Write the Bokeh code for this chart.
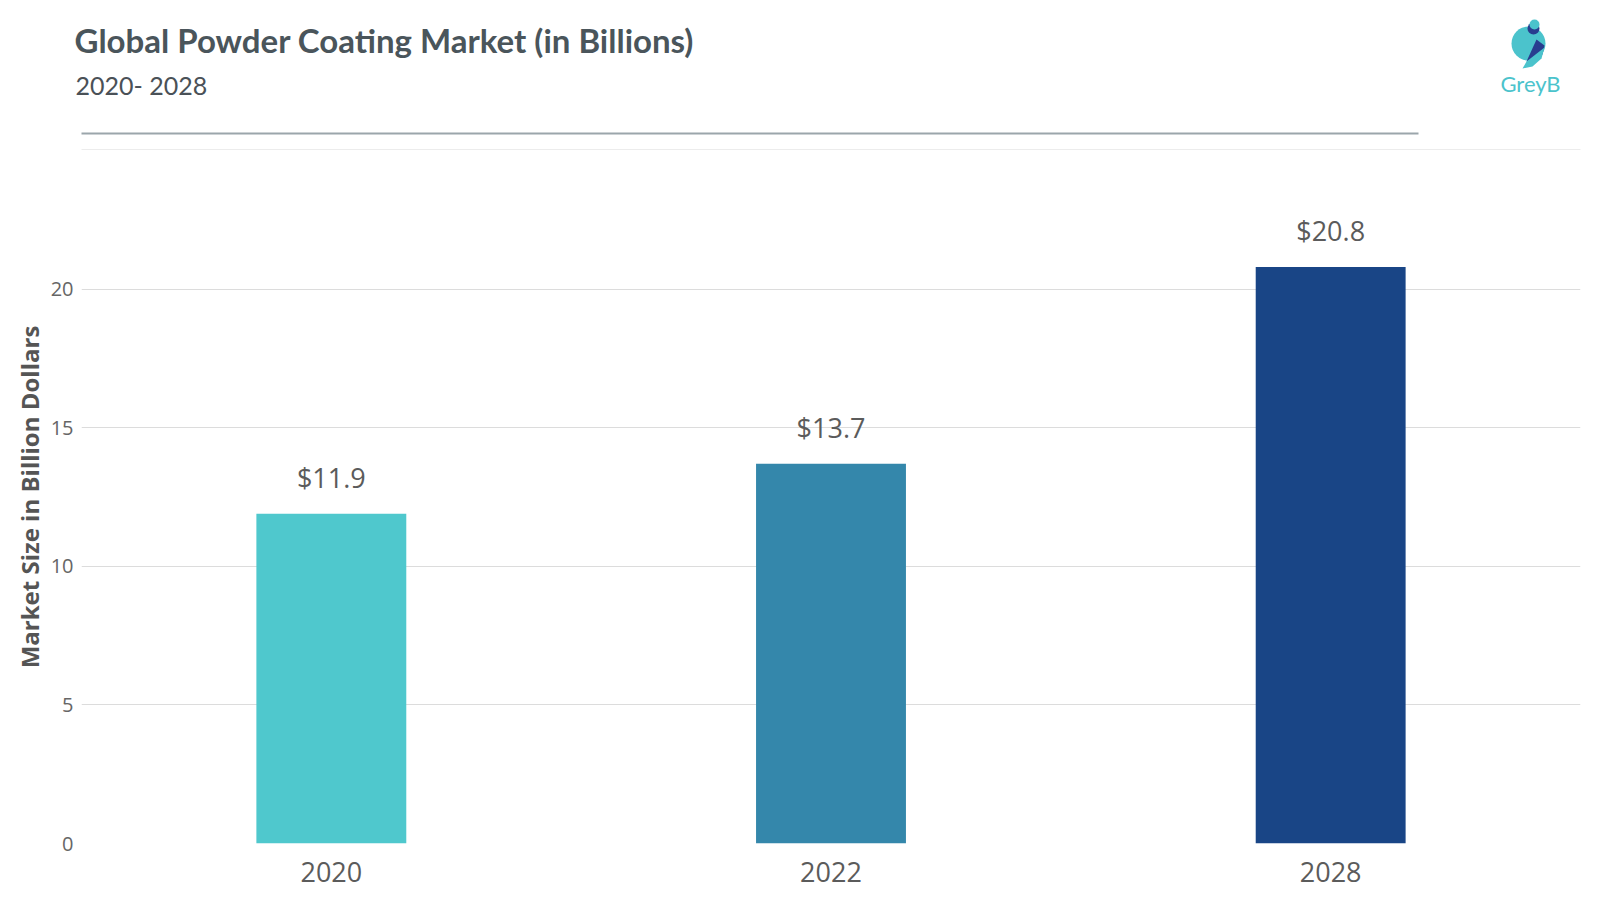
from bokeh.plotting import figure
from bokeh.models import FixedTicker, ColumnDataSource, LabelSet, Range1d
from bokeh.layouts import column
from bokeh.core.properties import value
from bokeh.embed import file_html
from bokeh.resources import INLINE

years = ["2020", "2022", "2028"]
values = [11.9, 13.7, 20.8]
value_labels = ["$11.9", "$13.7", "$20.8"]
bar_colors = ["#4fc8cd", "#3487ab", "#194586"]
y_ticks = [0, 5, 10, 15, 20]

title_text = "Global Powder Coating Market (in Billions)"
subtitle_text = "2020- 2028"
y_axis_title = "Market Size in Billion Dollars"
brand_text = "GreyB"

W = 1584
HEAD_H = 150

# ---------- header (pixel-space figure) ----------
h = figure(width=W, height=HEAD_H, x_range=Range1d(0, W), y_range=Range1d(HEAD_H, 0),
           output_backend="svg", toolbar_location=None, title=None,
           x_axis_location=None, y_axis_location=None, min_border=0)
h.outline_line_color = None
h.grid.grid_line_color = None

h.text(x=[74], y=[39], text=[title_text], text_font=value("Lato"),
       text_font_style="bold", text_font_size="33px", text_color="#4a555b",
       text_baseline="alphabetic", text_align="left")
h.text(x=[75], y=[84], text=[subtitle_text], text_font=value("Lato"),
       text_font_size="25px", text_color="#4a5157",
       text_baseline="alphabetic", text_align="left")
h.segment(x0=[81], y0=[133], x1=[1418], y1=[133], line_width=2, line_color="#9ba6ab")
h.segment(x0=[81], y0=[149.5], x1=[1580], y1=[149.5], line_width=1, line_color="#d9d9d9")

# logo
cyan, navy = "#4bc3cc", "#283d8f"
h.circle(x=[1528], y=[43], radius=17, fill_color=cyan, line_color=None)
h.circle(x=[1533], y=[28], radius=6, fill_color=navy, line_color=None)
h.circle(x=[1534], y=[24], radius=5, fill_color=cyan, line_color=None)
h.patch(x=[1536, 1544, 1542, 1526], y=[39, 45, 54, 61], fill_color=navy, line_color=None)
h.patch(x=[1544, 1541, 1532, 1522, 1526], y=[47, 58, 66, 68, 61], fill_color=cyan, line_color=None)
h.text(x=[1530], y=[83], text=[brand_text], text_font=value("Lato"),
       text_font_size="22px", text_color=cyan, text_align="center",
       text_baseline="alphabetic")

# ---------- chart ----------
p = figure(x_range=years, y_range=(0, 25), width=W, height=750,
           output_backend="svg", toolbar_location=None, title=None,
           min_border_left=81, min_border_right=4, min_border_top=0,
           min_border_bottom=57)
p.outline_line_color = None

for fig in (h, p):
    try:
        fig.frame_align = False
    except Exception:
        pass

src = ColumnDataSource(dict(x=years, top=values, color=bar_colors, label=value_labels))
p.vbar(x="x", top="top", width=0.3, color="color", source=src, line_color=None)

p.add_layout(LabelSet(x="x", y="top", text="label", source=src, y_offset=26,
                      text_align="center", text_baseline="alphabetic",
                      text_font=value("Open Sans"), text_font_size="27px",
                      text_color="#5b5b5b"))

p.yaxis.ticker = FixedTicker(ticks=y_ticks)
p.yaxis.axis_line_color = None
p.yaxis.major_tick_line_color = None
p.yaxis.minor_tick_line_color = None
p.yaxis.major_tick_out = 0
p.yaxis.major_tick_in = 0
p.yaxis.minor_tick_out = 0
p.yaxis.major_label_standoff = 8
p.yaxis.major_label_text_font = "Open Sans"
p.yaxis.major_label_text_font_size = "20px"
p.yaxis.major_label_text_color = "#666666"
p.yaxis.axis_label = y_axis_title
p.yaxis.axis_label_text_font = "Open Sans"
p.yaxis.axis_label_text_font_style = "bold"
p.yaxis.axis_label_text_font_size = "24px"
p.yaxis.axis_label_text_color = "#555555"
p.yaxis.axis_label_standoff = 2

p.xaxis.axis_line_color = None
p.xaxis.major_tick_line_color = None
p.xaxis.minor_tick_line_color = None
p.xaxis.major_tick_out = 0
p.xaxis.major_tick_in = 0
p.xaxis.major_label_standoff = 18
p.xaxis.major_label_text_font = "Open Sans"
p.xaxis.major_label_text_font_size = "27px"
p.xaxis.major_label_text_color = "#5b5b5b"

p.xgrid.grid_line_color = None
p.ygrid.grid_line_color = "#dcdcdc"
p.ygrid.grid_line_width = 1

layout = column(h, p, spacing=0)
open("out.html", "w").write(file_html(layout, INLINE))
